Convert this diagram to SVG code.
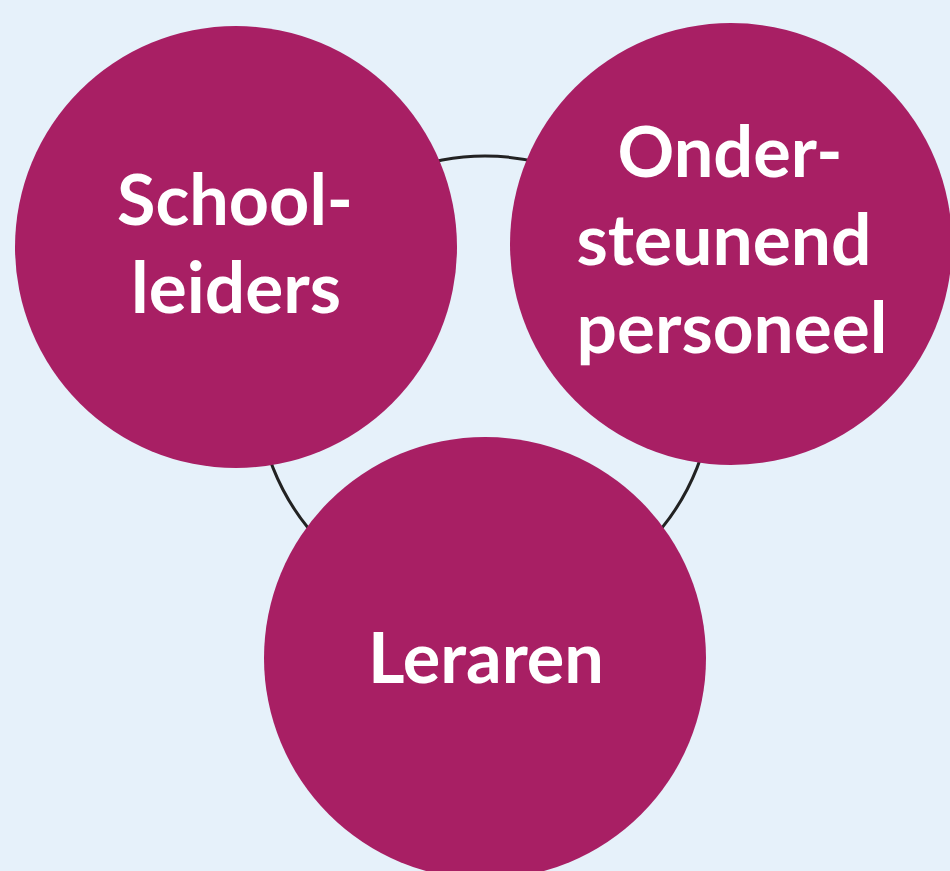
<svg xmlns="http://www.w3.org/2000/svg" width="950" height="871" viewBox="0 0 950 871">
<style>
.node{fill:#a81f64}
.lbl{fill:#ffffff;font-family:Lato,"Open Sans","Liberation Sans",sans-serif;font-weight:700;font-size:71px;text-anchor:middle}
.conn{fill:none;stroke:#222222;stroke-width:3}
</style>
<rect width="950" height="871" fill="#e6f1fa"/>
<g id="connectors">
<circle class="conn" cx="485" cy="384" r="228"/>
</g>
<g id="schoolleiders">
<circle class="node" cx="236" cy="247" r="221"/>
<text class="lbl" x="235" y="225" textLength="236" lengthAdjust="spacingAndGlyphs">School-</text>
<text class="lbl" x="236" y="313" textLength="210" lengthAdjust="spacingAndGlyphs">leiders</text>
</g>
<g id="ondersteunend-personeel">
<circle class="node" cx="731" cy="244" r="221"/>
<text class="lbl" x="730" y="177" textLength="225" lengthAdjust="spacingAndGlyphs">Onder-</text>
<text class="lbl" x="724" y="265" textLength="295" lengthAdjust="spacingAndGlyphs">steunend</text>
<text class="lbl" x="732" y="353" textLength="311" lengthAdjust="spacingAndGlyphs">personeel</text>
</g>
<g id="leraren">
<circle class="node" cx="485" cy="658" r="221"/>
<text class="lbl" x="486" y="683" textLength="236" lengthAdjust="spacingAndGlyphs">Leraren</text>
</g>
</svg>
